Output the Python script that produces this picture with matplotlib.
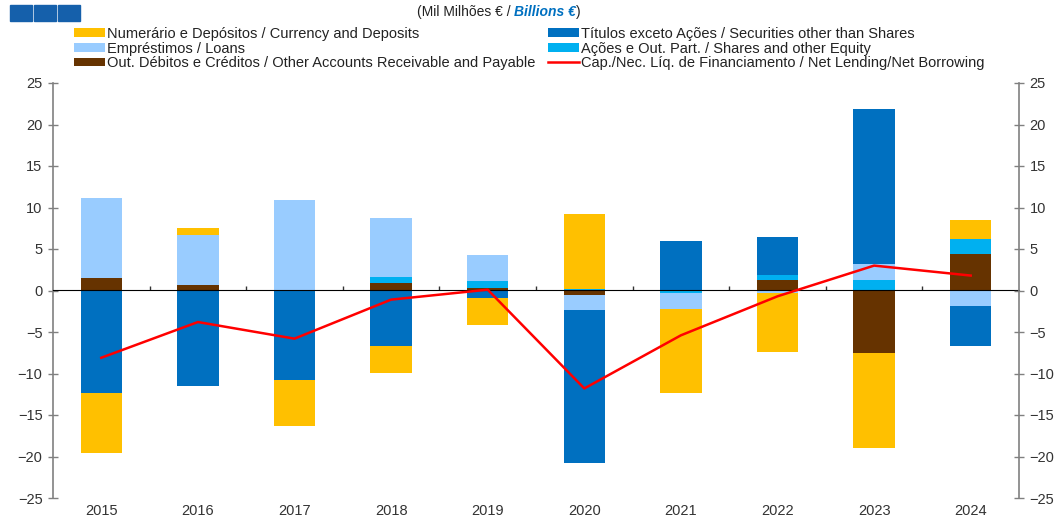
import numpy as np
import matplotlib
matplotlib.use("Agg")
import matplotlib.pyplot as plt
from matplotlib.patches import Rectangle

plt.rcParams['font.family'] = ['Liberation Sans', 'DejaVu Sans']

# Data (mil milhões EUR / billions EUR)
years = ['2015', '2016', '2017', '2018', '2019', '2020', '2021', '2022', '2023', '2024']
other_accounts = [1.5, 0.7, 0.0, 0.9, 0.35, -0.6, 0.0, 1.25, -7.5, 4.4]
shares = [0.0, 0.0, 0.0, 0.7, 0.8, 0.2, -0.3, 0.6, 1.25, 1.8]
loans = [9.7, 6.0, 10.9, 7.15, 3.1, -1.8, -1.9, -0.35, 2.0, -1.9]
securities = [-12.3, -11.5, -10.8, -6.7, -0.9, -18.4, 5.95, 4.65, 18.65, -4.8]
currency = [-7.3, 0.8, -5.5, -3.2, -3.2, 9.0, -10.1, -7.05, -11.5, 2.3]
net_lending = [-8.1, -3.8, -5.8, -1.1, 0.1, -11.8, -5.4, -0.7, 3.0, 1.8]

labels = {
    'currency': 'Numerário e Depósitos / Currency and Deposits',
    'securities': 'Títulos exceto Ações / Securities other than Shares',
    'loans': 'Empréstimos / Loans',
    'shares': 'Ações e Out. Part. / Shares and other Equity',
    'other': 'Out. Débitos e Créditos / Other Accounts Receivable and Payable',
    'line': 'Cap./Nec. Líq. de Financiamento / Net Lending/Net Borrowing',
}

colors = {
    'other': '#663300',
    'shares': '#00B0F0',
    'loans': '#99CCFF',
    'securities': '#0070C0',
    'currency': '#FFC000',
}

fig = plt.figure(figsize=(10.54, 5.19), dpi=100)
ax = fig.add_axes([53 / 1054, 1 - 498 / 519, 966 / 1054, 415 / 519])

x = np.arange(len(years))
width = 0.43
pos_bottom = np.zeros(len(years))
neg_bottom = np.zeros(len(years))
handles = {}
# stacking order from the zero line outwards
for key, vals in [('other', other_accounts), ('shares', shares), ('loans', loans),
                  ('securities', securities), ('currency', currency)]:
    vals = np.array(vals)
    bottom = np.where(vals >= 0, pos_bottom, neg_bottom)
    handles[key] = ax.bar(x, vals, width, bottom=bottom, color=colors[key],
                          label=labels[key], zorder=2)
    pos_bottom += np.clip(vals, 0, None)
    neg_bottom += np.clip(vals, None, 0)

line, = ax.plot(x, net_lending, color='#FF0000', linewidth=1.8, zorder=4,
                label=labels['line'])

ax.set_xlim(-0.5, len(years) - 0.5)
ax.set_ylim(-25, 25)
ax.set_yticks(np.arange(-25, 26, 5))
ax.set_xticks(x, years)
ax.tick_params(axis='x', length=0, pad=4, labelsize=10.5, labelcolor='#333333')
ax.tick_params(axis='y', direction='inout', length=7, width=1, color='#808080',
               labelsize=10.5, labelcolor='#333333', pad=4)
for s in ['top', 'bottom', 'right']:
    ax.spines[s].set_visible(False)
ax.spines['left'].set_color('#808080')
ax.spines['left'].set_linewidth(1.2)

ax2 = ax.twinx()
ax2.set_ylim(-25, 25)
ax2.set_yticks(np.arange(-25, 26, 5))
ax2.tick_params(axis='y', direction='inout', length=7, width=1, color='#808080',
                labelsize=10.5, labelcolor='#333333', pad=4)
for s in ['top', 'bottom', 'left']:
    ax2.spines[s].set_visible(False)
ax2.spines['right'].set_color('#808080')
ax2.spines['right'].set_linewidth(1.2)

# zero line with category separator ticks
zero_ax = ax.secondary_xaxis(0.5)
zero_ax.set_xticks(x[:-1] + 0.5)
zero_ax.set_xticklabels([])
zero_ax.tick_params(axis='x', direction='out', length=3, width=1, color='#333333')
zero_ax.spines['bottom'].set_color('#222222')
zero_ax.spines['bottom'].set_linewidth(1)
zero_ax.set_zorder(3)

order = ['currency', 'loans', 'other', 'securities', 'shares']
leg_handles = [handles[k] for k in order] + [line]
leg_labels = [labels[k] for k in order] + [labels['line']]
fig.legend(leg_handles, leg_labels, ncol=2, loc='upper left',
           bbox_to_anchor=(74 / 1054, 1 - 27 / 519), frameon=False,
           fontsize=10.5, handlelength=2.1, handleheight=0.55, handletextpad=0.15,
           labelspacing=0.04, columnspacing=0.9, borderpad=0, borderaxespad=0,
           labelcolor='#222222')

# heading
t1 = fig.text(417 / 1054, 1 - 12 / 519, '(Mil Milhões € / ', fontsize=10,
              va='center', ha='left', color='#222222')
t2 = fig.text(0, 0, 'Billions €', fontsize=10, style='italic', weight='bold',
              color='#0070C0', va='center', ha='left')
t3 = fig.text(0, 0, ')', fontsize=10, va='center', ha='left', color='#222222')
fig.canvas.draw()
r = fig.canvas.get_renderer()
bb1 = t1.get_window_extent(r)
t2.set_position((bb1.x1 / fig.bbox.width, 1 - 12 / 519))
bb2 = t2.get_window_extent(r)
t3.set_position((bb2.x1 / fig.bbox.width, 1 - 12 / 519))

# three blue boxes in the corner
for i in range(3):
    fig.add_artist(Rectangle(((10 + i * 24) / 1054, 1 - 21 / 519), 22 / 1054, 16 / 519,
                             transform=fig.transFigure, color='#1560AB'))

fig.savefig('out.png', dpi=100)
